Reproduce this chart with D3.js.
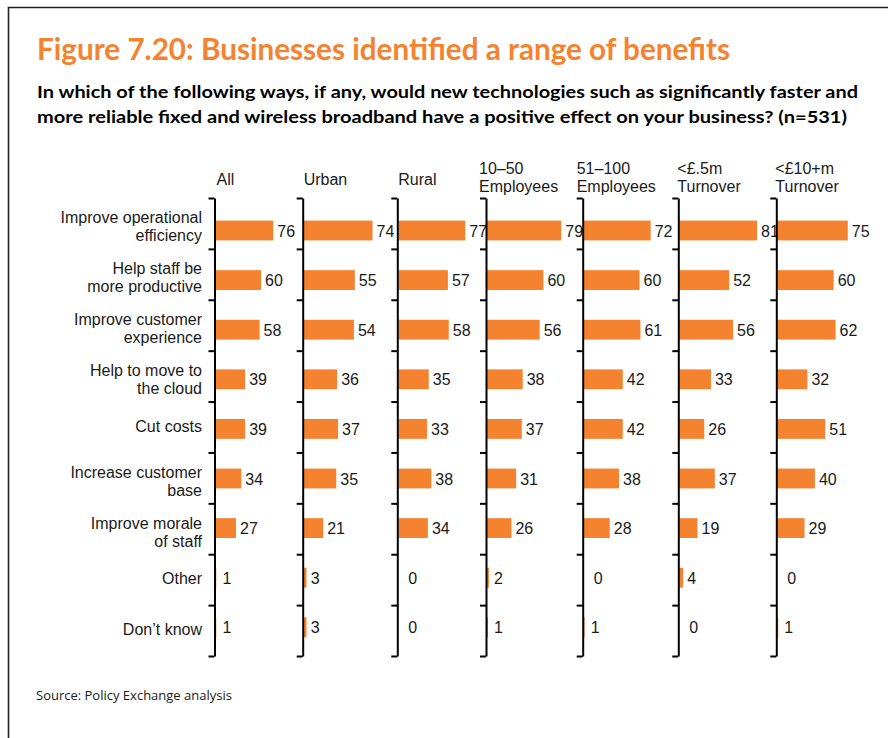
<!DOCTYPE html>
<html>
<head>
<meta charset="utf-8">
<script src="https://cdn.jsdelivr.net/npm/d3@7"></script>
<style>
  html, body { margin: 0; padding: 0; background: #fff; }
  svg { display: block; }
  .lbl { font-family: "Liberation Sans", Arial, sans-serif; font-size: 16px; fill: #1a1a1a; }
</style>
</head>
<body>
<svg id="chart" width="888" height="738"></svg>
<script>
// Benefits of faster broadband, % of businesses, by segment
const categories = [
  "Improve operational\nefficiency",
  "Help staff be\nmore productive",
  "Improve customer\nexperience",
  "Help to move to\nthe cloud",
  "Cut costs",
  "Increase customer\nbase",
  "Improve morale\nof staff",
  "Other",
  "Don\u2019t know"
];

const segments = [
  "All",
  "Urban",
  "Rural",
  "10\u201350\nEmployees",
  "51\u2013100\nEmployees",
  "<\u00a3.5m\nTurnover",
  "<\u00a310+m\nTurnover"
];

const allValues      = [76, 60, 58, 39, 39, 34, 27, 1, 1];
const urbanValues    = [74, 55, 54, 36, 37, 35, 21, 3, 3];
const ruralValues    = [77, 57, 58, 35, 33, 38, 34, 0, 0];
const emp10to50      = [79, 60, 56, 38, 37, 31, 26, 2, 1];
const emp51to100     = [72, 60, 61, 42, 42, 38, 28, 0, 1];
const turnoverSmall  = [81, 52, 56, 33, 26, 37, 19, 4, 0];
const turnoverLarge  = [75, 60, 62, 32, 51, 40, 29, 0, 1];

const series = [allValues, urbanValues, ruralValues, emp10to50, emp51to100, turnoverSmall, turnoverLarge];

// panel layout: axis position and pixel span for 100%
const panelAxisX = [214.5, 302.7, 397.3, 486, 582.7, 678.3, 776.3];
const panelSpan  = [76, 93, 87, 94, 93, 96, 94];
const headerDx   = [2, 1, 1, -7, -6, -1, -1];

const ORANGE = "#f5822f";
const svg = d3.select("#chart");

// frame
svg.append("path")
  .attr("d", "M8.5,738 L8.5,7.5 L888,7.5")
  .attr("fill", "none").attr("stroke", "#222").attr("stroke-width", 1.6);

// title + question
svg.append("text")
  .attr("x", 37).attr("y", 60)
  .attr("textLength", 693).attr("lengthAdjust", "spacingAndGlyphs")
  .style("font-family", "Lato, sans-serif").style("font-weight", 700)
  .style("font-size", "30px").style("fill", ORANGE)
  .text("Figure 7.20: Businesses identified a range of benefits");

const questionLines = [
  ["In which of the following ways, if any, would new technologies such as significantly faster and", 821],
  ["more reliable fixed and wireless broadband have a positive effect on your business? (n=531)", 810]
];
svg.selectAll("text.q").data(questionLines).join("text")
  .attr("class", "q")
  .attr("x", 37).attr("y", (d, i) => 97.5 + i * 25.5)
  .attr("textLength", d => d[1]).attr("lengthAdjust", "spacingAndGlyphs")
  .style("font-family", "Lato, sans-serif").style("font-weight", 700)
  .style("font-size", "17.5px").style("fill", "#000")
  .text(d => d[0]);

// vertical scales: tick grid and bar bands
const yTick = d3.scaleLinear().domain([0, categories.length]).range([198, 656]);
const yBar = d3.scaleBand()
  .domain(d3.range(categories.length))
  .range([205.7, 652.1])
  .paddingInner(0.6).paddingOuter(0.3);

// category labels
const catG = svg.append("g");
categories.forEach((c, i) => {
  const lines = c.split("\n");
  const mid = (yTick(i) + yTick(i + 1)) / 2;
  const t = catG.append("text").attr("class", "lbl")
    .attr("text-anchor", "end")
    .attr("x", 202);
  lines.forEach((ln, j) => {
    const base = lines.length === 1 ? mid + 4.5 : mid + j * 18;
    t.append("tspan").attr("x", 202).attr("y", base).text(ln);
  });
});

// panels
segments.forEach((seg, p) => {
  const ax = panelAxisX[p];
  const x = d3.scaleLinear().domain([0, 100]).range([ax + 1, ax + 1 + panelSpan[p]]);
  const g = svg.append("g");

  // header
  const hl = seg.split("\n");
  const ht = g.append("text").attr("class", "lbl");
  hl.forEach((ln, j) => {
    const base = hl.length === 1 ? 185 : 174 + j * 18;
    ht.append("tspan").attr("x", ax + headerDx[p]).attr("y", base).text(ln);
  });

  // bars
  const vals = series[p];
  g.selectAll("rect").data(vals).join("rect")
    .attr("x", x(0))
    .attr("y", (d, i) => yBar(i))
    .attr("width", d => x(d) - x(0))
    .attr("height", yBar.bandwidth())
    .attr("fill", ORANGE);

  // value labels
  g.selectAll("text.v").data(vals).join("text")
    .attr("class", "lbl v")
    .attr("x", d => d === 0 ? ax + 11 : Math.max(x(d) + 4, ax + 8))
    .attr("y", (d, i) => yBar(i) + yBar.bandwidth() / 2 + 6)
    .text(d => d);

  // axis with bracket ticks at category boundaries
  const axis = d3.axisLeft(yTick)
    .tickValues(d3.range(categories.length + 1))
    .tickFormat("")
    .tickSizeInner(6)
    .tickSizeOuter(0);
  const ag = g.append("g").attr("transform", `translate(${ax},0)`).call(axis);
  ag.select(".domain").attr("stroke", "#000").attr("stroke-width", 2);
  ag.selectAll(".tick line").attr("stroke", "#000").attr("stroke-width", 2);
});

// source note
svg.append("text")
  .attr("x", 36).attr("y", 700)
  .style("font-family", "Open Sans, sans-serif").style("font-size", "13px").style("fill", "#1a1a1a")
  .text("Source: Policy Exchange analysis");
</script>
</body>
</html>
